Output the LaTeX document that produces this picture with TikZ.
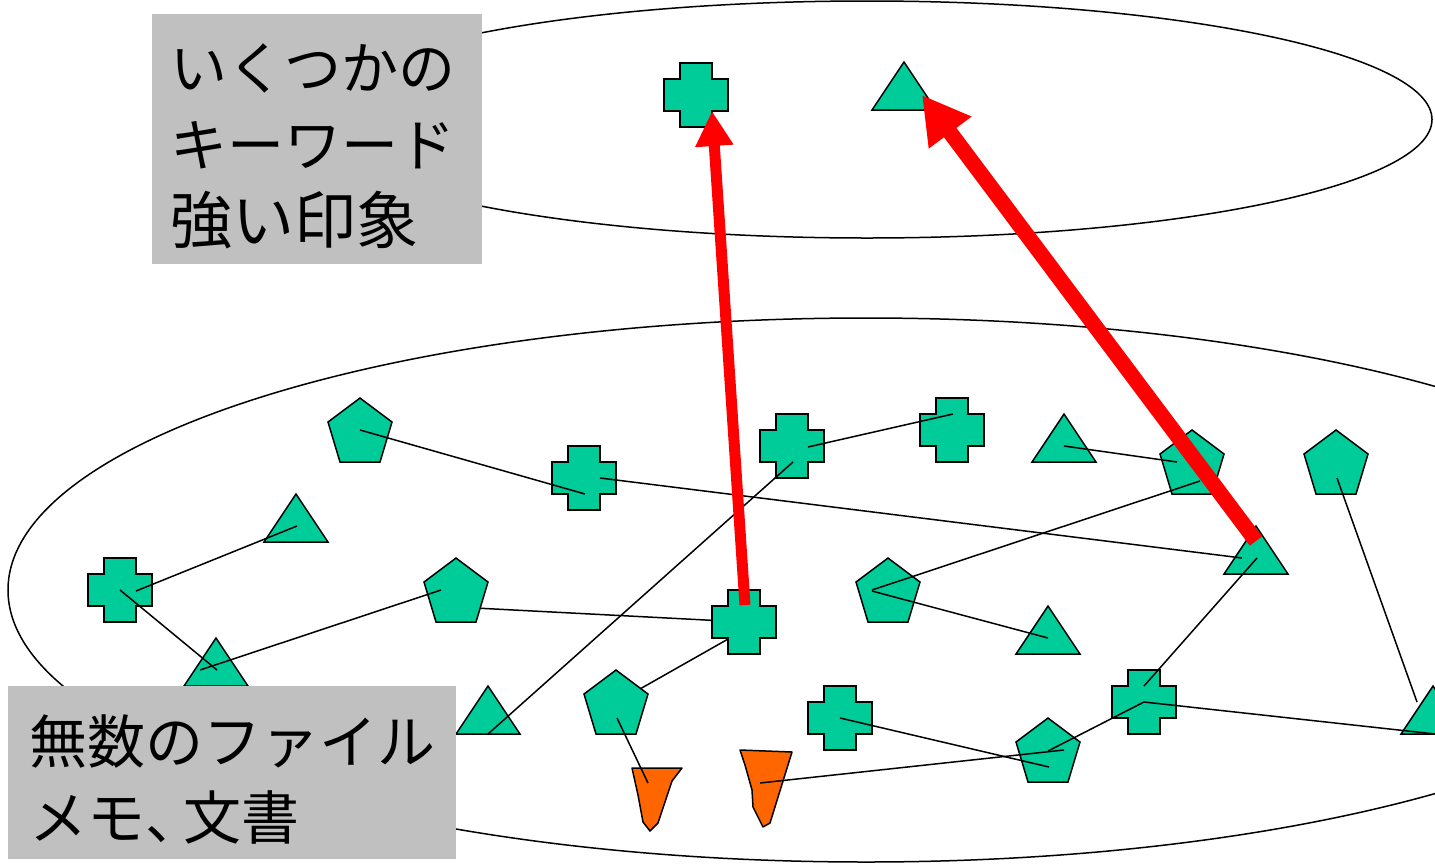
\documentclass[tikz,border=0pt]{standalone}
\usepackage{fontspec}
\newfontfamily\jpfont{Noto Sans CJK JP}
\usetikzlibrary{arrows.meta}
\definecolor{shgreen}{RGB}{0,204,153}
\definecolor{shorange}{RGB}{255,102,0}
\definecolor{boxgray}{RGB}{192,192,192}
\tikzset{
  shp/.style={fill=shgreen, draw=black, line width=1.5pt, line join=miter},
  oshp/.style={fill=shorange, draw=black, line width=1.5pt, line join=round},
  conn/.style={draw=black, line width=1.5pt},
  ell/.style={draw=black, line width=1.5pt},
  redarrow/.style={draw=red, line width=#1},
  labelbox/.style={fill=boxgray, draw=none, inner sep=0pt, anchor=north west},
  lbl/.style={inner sep=0pt, anchor=base west, font=\jpfont\fontsize{57}{68}\selectfont},
  lblk/.style={inner sep=0pt, anchor=base west, font=\jpfont\fontsize{62}{68}\selectfont},
  lblb/.style={inner sep=0pt, anchor=base west, font=\jpfont\fontsize{58}{68}\selectfont}
}
\newcommand\plusshape[1]{\filldraw[shp] ([shift={(-16,-32)}]#1) -- ++(32,0) -- ++(0,16) -- ++(16,0) -- ++(0,32) -- ++(-16,0) -- ++(0,16) -- ++(-32,0) -- ++(0,-16) -- ++(-16,0) -- ++(0,-32) -- ++(16,0) -- cycle;}
\newcommand\trishape[1]{\filldraw[shp] ([shift={(0,-24)}]#1) -- ++(32,48) -- ++(-64,0) -- cycle;}
\newcommand\pentshape[1]{\filldraw[shp] ([shift={(0,-32)}]#1) -- ([shift={(32,-8)}]#1) -- ([shift={(20,32)}]#1) -- ([shift={(-20,32)}]#1) -- ([shift={(-32,-8)}]#1) -- cycle;}
\begin{document}
\begin{tikzpicture}[x=1pt,y=-1pt]
\useasboundingbox (0,0) rectangle (1435,863);
% shape positions
\coordinate (XT) at (696,95);
\coordinate (TT) at (904,86);
\coordinate (P1) at (360,430);
\coordinate (T1) at (296,518);
\coordinate (X1) at (120,590);
\coordinate (T2) at (216,662);
\coordinate (P2) at (456,590);
\coordinate (X2) at (584,478);
\coordinate (X3) at (792,446);
\coordinate (X5) at (952,430);
\coordinate (X4) at (744,622);
\coordinate (P4) at (888,590);
\coordinate (T4) at (1048,630);
\coordinate (P5) at (1192,462);
\coordinate (T5) at (1256,550);
\coordinate (P6) at (1336,462);
\coordinate (T6) at (1064,438);
\coordinate (T7) at (1433,710);
\coordinate (X7) at (1144,702);
\coordinate (P7) at (1048,750);
\coordinate (X6) at (840,718);
\coordinate (P3) at (616,702);
\coordinate (T3) at (488,710);
\coordinate (O1) at (648,783);
\coordinate (O2) at (760,783);
% ellipses
\draw[ell] (867,119.5) ellipse [x radius=565pt, y radius=118.5pt];
\draw[ell] (866,590) ellipse [x radius=858pt, y radius=272pt];
% connectors below shapes
\draw[conn] ([shift={(0,17)}]P2) -- (X4);
\draw[conn] ([shift={(0,8)}]X4) -- ([shift={(1,0)}]P3);
% shapes
\plusshape{XT}
\trishape{TT}
\pentshape{P1}
\trishape{T1}
\plusshape{X1}
\trishape{T2}
\pentshape{P2}
\plusshape{X2}
\plusshape{X3}
\plusshape{X5}
\plusshape{X4}
\pentshape{P4}
\trishape{T4}
\pentshape{P5}
\trishape{T5}
\pentshape{P6}
\trishape{T6}
\trishape{T7}
\plusshape{X7}
\pentshape{P7}
\plusshape{X6}
\pentshape{P3}
\trishape{T3}
\filldraw[oshp] (632,768) -- (682,768) -- (672,781) -- (658,823) -- (650,831) -- (643,822) -- (638,795) -- cycle;
\filldraw[oshp] (740,750) -- (792,752) -- (770,823) -- (763,827) -- (753,807) -- (752,790) -- (745,765) -- cycle;
% connectors above shapes
\draw[conn] (P1) -- ([shift={(1,16)}]X2);
\draw[conn] ([shift={(16,0)}]X2) -- ([shift={(-14,8)}]T5);
\draw[conn] ([shift={(16,1)}]X1) -- ([shift={(1,8)}]T1);
\draw[conn] (X1) -- ([shift={(1,8)}]T2);
\draw[conn] ([shift={(-16,8)}]T2) -- ([shift={(-15,0)}]P2);
\draw[conn] ([shift={(16,1)}]X3) -- ([shift={(1,-16)}]X5);
\draw[conn] ([shift={(1,16)}]X3) -- ([shift={(0,24)}]T3);
\draw[conn] ([shift={(1,16)}]P3) -- (O1);
\draw[conn] ([shift={(-16,0)}]P4) -- ([shift={(8,19)}]P5);
\draw[conn] ([shift={(-16,1)}]P4) -- ([shift={(0,8)}]T4);
\draw[conn] ([shift={(0,8)}]T6) -- ([shift={(-15,0)}]P5);
\draw[conn] ([shift={(1,8)}]T5) -- ([shift={(0,-16)}]X7);
\draw[conn] ([shift={(1,16)}]P6) -- ([shift={(-16,-8)}]T7);
\draw[conn] (X7) -- ([shift={(2,24)}]T7);
\draw[conn] (X7) -- ([shift={(0,1)}]P7);
\draw[conn] (X6) -- ([shift={(1,17)}]P7);
\draw[conn] (O2) -- ([shift={(16,0)}]P7);
% red arrows
\draw[redarrow=11pt, -{Triangle[length=35pt,width=36pt]}] ([shift={(1,-17)}]X4) -- ([shift={(16,16)}]XT);
\draw[redarrow=15.5pt, -{Triangle[length=47pt,width=50pt]}] ([shift={(0,-9)}]T5) -- ([shift={(18,9)}]TT);
% label boxes
\node[labelbox, minimum width=330pt, minimum height=250pt] (kwbox) at (152,14) {};
\node[lbl] (kw1) at (170,89) {いくつかの};
\node[lbl] (kw2) at (170,166) {キーワード};
\node[lblk] (kw3) at (170,243) {強い印象};
\node[labelbox, minimum width=448pt, minimum height=173pt] (filebox) at (8,686) {};
\node[lblb] (fl1) at (29,763) {無数のファイル};
\node[lblb] (fl2) at (29,839) {メモ、\kern-20pt 文書};
\end{tikzpicture}
\end{document}
